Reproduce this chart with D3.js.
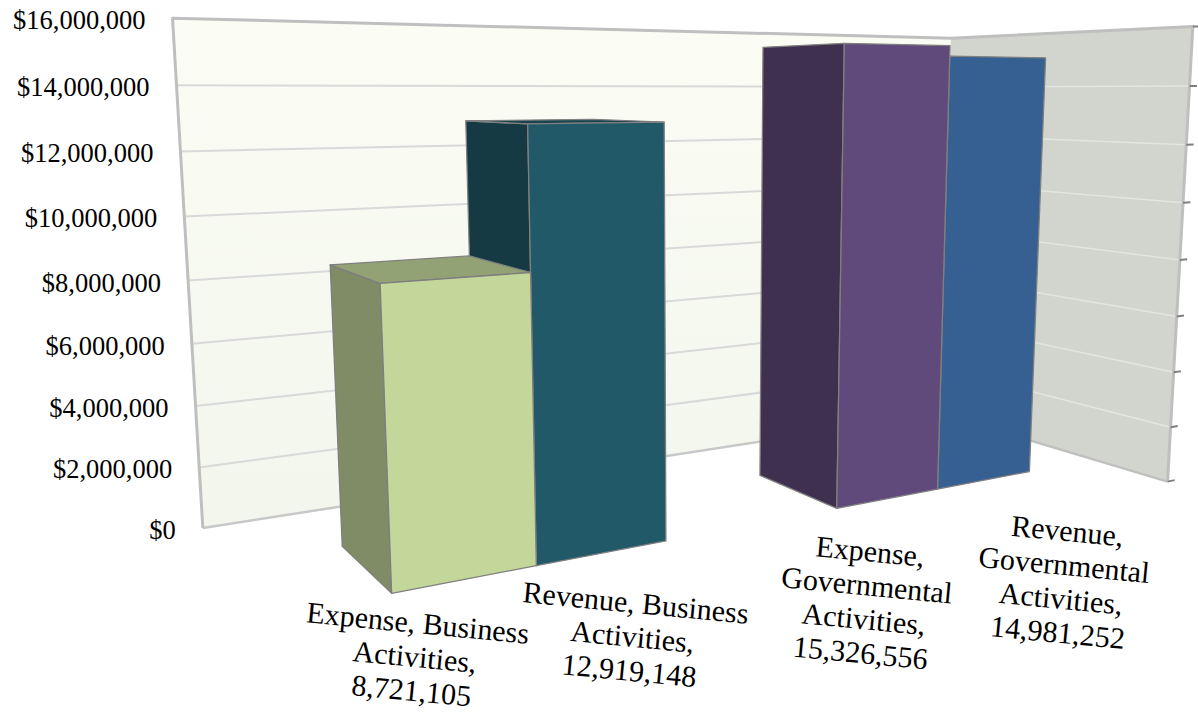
<!DOCTYPE html>
<html>
<head>
<meta charset="utf-8">
<script src="https://cdn.jsdelivr.net/npm/d3@7"></script>
<style>
  html, body { margin: 0; padding: 0; background: #ffffff; }
  svg { display: block; }
</style>
</head>
<body>
<svg id="chart" width="1198" height="715"></svg>
<script>
// ---- data ----
const groups = ["Business Activities", "Governmental Activities"];
const seriesNames = ["Expense", "Revenue"];
const expenseValues = [8721105, 15326556];
const revenueValues = [12919148, 14981252];
const valueTicks = [0, 2000000, 4000000, 6000000, 8000000, 10000000, 12000000, 14000000, 16000000];
const tickLabels = ["$0", "$2,000,000", "$4,000,000", "$6,000,000", "$8,000,000",
                    "$10,000,000", "$12,000,000", "$14,000,000", "$16,000,000"];

// ---- styles ----
const pointColors = ["#c4d79b", "#215968", "#604a7b", "#366092"];
const fontFamily = "'Liberation Serif', 'Times New Roman', Times, serif";
// label anchor nudges (px) from each column's front-bottom centre
const labelNudge = [[-48, 43], [33, 49], [-18, 52], [83, 50]];

// ---- 3D box and camera ----
const W = 69.8;   // box width (category axis)
const D = 27.9;   // box depth
const camera = {
  f: 1376, cx: 700, cy: 312,
  yaw: 59.01 * Math.PI / 180,
  pitch: 9.11 * Math.PI / 180,
  pos: [-18.6, 31.35, -73.3]
};
const hx = Math.cos(camera.yaw), hz = Math.sin(camera.yaw);
const cp = Math.cos(camera.pitch), sp = Math.sin(camera.pitch);
const R = [hz, 0, -hx];
const U = [sp * hx, cp, sp * hz];
const F = [cp * hx, -sp, cp * hz];

function project(p) {
  const vx = p[0] - camera.pos[0], vy = p[1] - camera.pos[1], vz = p[2] - camera.pos[2];
  const xc = vx * R[0] + vy * R[1] + vz * R[2];
  const yc = vx * U[0] + vy * U[1] + vz * U[2];
  const zc = vx * F[0] + vy * F[1] + vz * F[2];
  return [camera.cx + camera.f * xc / zc, camera.cy - camera.f * yc / zc];
}
function viewDepth(p) {
  const vx = p[0] - camera.pos[0], vy = p[1] - camera.pos[1], vz = p[2] - camera.pos[2];
  return vx * F[0] + vy * F[1] + vz * F[2];
}
const path = pts => "M" + pts.map(p => project(p).map(v => v.toFixed(2)).join(",")).join("L");
const poly = pts => path(pts) + "Z";

// ---- scales ----
const yScale = d3.scaleLinear().domain([0, 16000000]).range([0, 36.3]);
const xGroup = d3.scaleBand().domain(groups).range([0, W]).paddingInner(0.4286).paddingOuter(0.2143);
const xSeries = d3.scaleBand().domain(seriesNames).range([0, xGroup.bandwidth()]);
const zBand = d3.scaleBand().domain(["columns"]).range([0, D]).paddingOuter(0.816).align(0.4624);

const Ht = yScale(valueTicks[valueTicks.length - 1]);

const svg = d3.select("#chart");
const defs = svg.append("defs");
const grad = defs.append("linearGradient").attr("id", "backWallFill")
  .attr("x1", 0).attr("y1", 0).attr("x2", 0).attr("y2", 1);
grad.append("stop").attr("offset", "0%").attr("stop-color", "#fbfdf4");
grad.append("stop").attr("offset", "100%").attr("stop-color", "#f3f6ed");

// ---- walls ----
const walls = svg.append("g");
walls.append("path").attr("d", poly([[0, 0, D], [W, 0, D], [W, Ht, D], [0, Ht, D]]))
  .attr("fill", "url(#backWallFill)");
walls.append("path").attr("d", poly([[W, 0, D], [W, 0, 0], [W, Ht, 0], [W, Ht, D]]))
  .attr("fill", "#d2d4ce");

const inner = valueTicks.filter(v => v > 0 && v < valueTicks[valueTicks.length - 1]);
walls.selectAll("path.grid-back").data(inner).join("path").attr("class", "grid-back")
  .attr("d", v => path([[0, yScale(v), D], [W, yScale(v), D]]))
  .attr("fill", "none").attr("stroke", "#d9d9d9").attr("stroke-width", 2);
walls.selectAll("path.grid-side").data(inner).join("path").attr("class", "grid-side")
  .attr("d", v => path([[W, yScale(v), D], [W, yScale(v), 0]]))
  .attr("fill", "none").attr("stroke", "#e4e5e1").attr("stroke-width", 1.5);

// wall edges
walls.append("path").attr("d", path([[0, 0, D], [W, 0, D]]))
  .attr("fill", "none").attr("stroke", "#c8c8c8").attr("stroke-width", 2.5);
walls.append("path").attr("d", path([[W, 0, D], [W, 0, 0]]))
  .attr("fill", "none").attr("stroke", "#c0c0c0").attr("stroke-width", 2.5);
walls.append("path").attr("d", path([[0, 0, D], [0, Ht, D], [W, Ht, D], [W, Ht, 0], [W, 0, 0]]))
  .attr("fill", "none").attr("stroke", "#bfbfbf").attr("stroke-width", 3)
  .attr("stroke-linejoin", "round");

// value-axis ticks on the front edge of the side wall
walls.selectAll("path.tick").data(valueTicks).join("path").attr("class", "tick")
  .attr("d", v => path([[W, yScale(v), 0], [W + 0.85, yScale(v), 0]]))
  .attr("stroke", "#7f7f7f").attr("stroke-width", 2);

// value-axis labels beside the back wall
svg.append("g").selectAll("text").data(valueTicks).join("text")
  .attr("x", v => project([0, yScale(v), D])[0] - 27)
  .attr("y", v => project([0, yScale(v), D])[1] + 2)
  .attr("text-anchor", "end").attr("dominant-baseline", "central")
  .attr("font-family", fontFamily).attr("font-size", "26.5px").attr("fill", "#000")
  .text((v, i) => tickLabels[i]);

// ---- columns ----
const points = [];
groups.forEach((g, gi) => {
  seriesNames.forEach((s, si) => {
    const value = si === 0 ? expenseValues[gi] : revenueValues[gi];
    points.push({ group: g, series: s, value });
  });
});
points.forEach((p, i) => {
  p.color = pointColors[i];
  p.x0 = xGroup(p.group) + xSeries(p.series);
  p.x1 = p.x0 + xSeries.bandwidth();
  p.z0 = zBand("columns");
  p.z1 = p.z0 + zBand.bandwidth();
  p.h = yScale(p.value);
  p.index = i;
});

function faces(p) {
  const { x0, x1, z0, z1, h } = p;
  const base = d3.color(p.color);
  return [
    { pts: [[x0, 0, z1], [x1, 0, z1], [x1, h, z1], [x0, h, z1]], n: [0, 0, 1], ref: [x0, 0, z1], fill: base.darker(1.2) },
    { pts: [[x1, 0, z0], [x1, 0, z1], [x1, h, z1], [x1, h, z0]], n: [1, 0, 0], ref: [x1, 0, z0], fill: base.darker(1.2) },
    { pts: [[x0, 0, z0], [x0, 0, z1], [x0, h, z1], [x0, h, z0]], n: [-1, 0, 0], ref: [x0, 0, z0], fill: base.darker(1.2) },
    { pts: [[x0, h, z0], [x1, h, z0], [x1, h, z1], [x0, h, z1]], n: [0, 1, 0], ref: [x0, h, z0], fill: base.darker(0.8) },
    { pts: [[x0, 0, z0], [x1, 0, z0], [x1, h, z0], [x0, h, z0]], n: [0, 0, -1], ref: [x0, 0, z0], fill: base }
  ].filter(fc => {
    const c = camera.pos;
    return (c[0] - fc.ref[0]) * fc.n[0] + (c[1] - fc.ref[1]) * fc.n[1] + (c[2] - fc.ref[2]) * fc.n[2] > 0;
  });
}

const drawOrder = points.slice().sort((a, b) =>
  viewDepth([(b.x0 + b.x1) / 2, b.h / 2, (b.z0 + b.z1) / 2]) -
  viewDepth([(a.x0 + a.x1) / 2, a.h / 2, (a.z0 + a.z1) / 2]));

const colG = svg.append("g");
drawOrder.forEach(p => {
  const g = colG.append("g");
  g.selectAll("path").data(faces(p)).join("path")
    .attr("d", fc => poly(fc.pts))
    .attr("fill", fc => fc.fill.formatHex())
    .attr("stroke", "#7f7f7f").attr("stroke-width", 1.3)
    .attr("stroke-linejoin", "round");
});

// ---- data labels ----
const fmt = d3.format(",");
const measure = svg.append("text").attr("font-family", fontFamily).attr("font-size", "30px")
  .attr("visibility", "hidden");
function wrap(text, maxW) {
  const words = text.split(" ");
  const lines = [];
  let cur = "";
  words.forEach(w => {
    const trial = cur ? cur + " " + w : w;
    measure.text(trial);
    if (cur && measure.node().getComputedTextLength() > maxW) {
      lines.push(cur);
      cur = w;
    } else {
      cur = trial;
    }
  });
  if (cur) lines.push(cur);
  return lines;
}

const labelG = svg.append("g");
points.forEach((p, i) => {
  const lines = wrap(p.series + ", " + p.group + ",", 236);
  lines.push(fmt(p.value));
  const a = project([(p.x0 + p.x1) / 2, 0, p.z0]);
  const t = labelG.append("text")
    .attr("transform", `translate(${(a[0] + labelNudge[i][0]).toFixed(1)},${(a[1] + labelNudge[i][1]).toFixed(1)}) rotate(5.5)`)
    .attr("text-anchor", "middle").attr("dominant-baseline", "central")
    .attr("font-family", fontFamily).attr("font-size", "30px").attr("fill", "#000");
  t.selectAll("tspan").data(lines).join("tspan")
    .attr("x", 0).attr("dy", (d, k) => k === 0 ? 0 : 34)
    .text(d => d);
});
measure.remove();
</script>
</body>
</html>
